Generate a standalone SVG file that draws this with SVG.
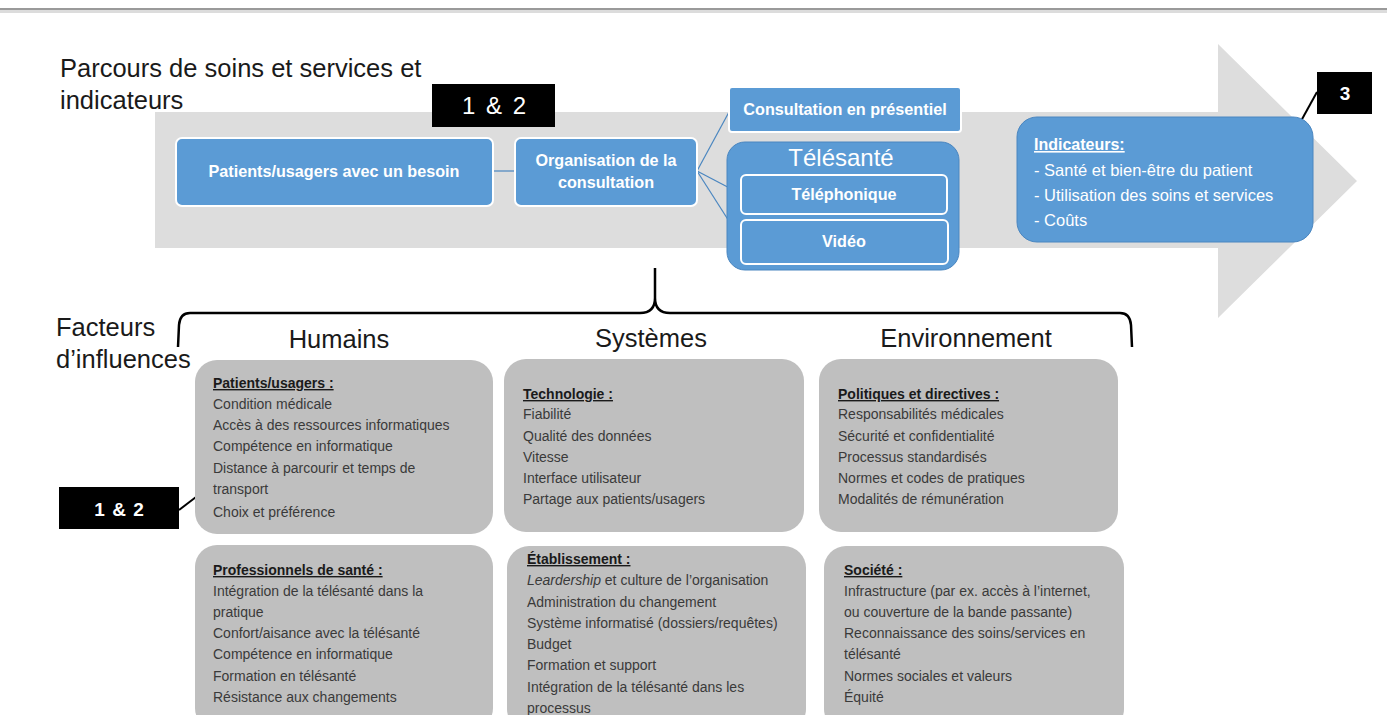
<svg xmlns="http://www.w3.org/2000/svg" width="1387" height="715" viewBox="0 0 1387 715">
<defs>
<style>
.t{font-family:"Liberation Sans",Arial,sans-serif}
.big{font-size:25.5px;fill:#1a1a1a}
.blue{fill:#5B9BD5;stroke:#fff;stroke-width:2}
.wb{fill:#fff;font-weight:bold;font-size:16.2px}
.gray{fill:#BFBFBF}
.g{font-size:14px;fill:#3a3a3a}
.gh{font-size:14px;fill:#1a1a1a;font-weight:bold;text-decoration:underline}
.blk{fill:#000}
.conn{stroke:#4A86C0;stroke-width:1.2;fill:none}
</style>
</defs>
<rect x="0" y="0" width="1387" height="715" fill="#fff"/>
<rect x="0" y="8" width="1387" height="2" fill="#9a9a9a"/>
<rect x="0" y="10" width="1387" height="3" fill="#dcdcdc"/>

<g id="arrow">
<polygon points="155,112 1218,112 1218,44 1357,181 1218,318 1218,248 155,248" fill="#DDDDDD"/>
</g>

<g id="title">
<text class="t big" x="60" y="77">Parcours de soins et services et</text>
<text class="t big" x="60" y="109">indicateurs</text>
</g>

<g id="connectors">
<line class="conn" x1="493" y1="171" x2="515" y2="171"/>
<line class="conn" x1="697" y1="171" x2="729" y2="112"/>
<line class="conn" x1="697" y1="171" x2="741" y2="194"/>
<line class="conn" x1="697" y1="171" x2="741" y2="240"/>
<line x1="1317" y1="92" x2="1301" y2="121" stroke="#000" stroke-width="2"/>
<line x1="179" y1="510" x2="196" y2="497" stroke="#000" stroke-width="2"/>
<path d="M655,268 L655,298 Q655,313 640,313 L190,313 Q180,313 179,325 L178,347 M655,298 Q655,313 670,313 L1120,313 Q1130,313 1131,325 L1132,347" fill="none" stroke="#000" stroke-width="2.5"/>
</g>

<g id="badge12top">
<rect class="blk" x="432" y="84" width="123" height="43"/>
<text class="t" x="494" y="114" font-size="24" fill="#fff" text-anchor="middle" word-spacing="4">1 &amp; 2</text>
</g>

<g id="patients">
<rect class="blue" x="176" y="138" width="317" height="68" rx="6"/>
<text class="t wb" x="334" y="177" text-anchor="middle">Patients/usagers avec un besoin</text>
</g>

<g id="organisation">
<rect class="blue" x="515" y="138" width="182" height="68" rx="6"/>
<text class="t wb" x="606" y="166" text-anchor="middle">Organisation de la</text>
<text class="t wb" x="606" y="188" text-anchor="middle">consultation</text>
</g>

<g id="presentiel">
<rect class="blue" x="729" y="87" width="232" height="45" rx="3"/>
<text class="t wb" x="845" y="115" text-anchor="middle">Consultation en présentiel</text>
</g>

<g id="telesante">
<rect x="727" y="142" width="232" height="128" rx="18" fill="#5B9BD5" stroke="#4A86C0" stroke-width="1"/>
<text class="t" x="841" y="166" font-size="24" fill="#fff" text-anchor="middle">Télésanté</text>
<rect x="741" y="175" width="206" height="39" rx="5" fill="#5B9BD5" stroke="#fff" stroke-width="2"/>
<text class="t wb" x="844" y="200" text-anchor="middle">Téléphonique</text>
<rect x="741" y="220" width="207" height="44" rx="5" fill="#5B9BD5" stroke="#fff" stroke-width="2"/>
<text class="t wb" x="844" y="247" text-anchor="middle">Vidéo</text>
</g>

<g id="indicateurs">
<rect x="1017" y="117" width="296" height="125" rx="20" fill="#5B9BD5" stroke="#4A86C0" stroke-width="1"/>
<text class="t" x="1034" y="150" font-size="16" fill="#fff" font-weight="bold" text-decoration="underline">Indicateurs:</text>
<text class="t" x="1034" y="176" font-size="16.5" fill="#fff">- Santé et bien-être du patient</text>
<text class="t" x="1034" y="201" font-size="16.5" fill="#fff">- Utilisation des soins et services</text>
<text class="t" x="1034" y="226" font-size="16.5" fill="#fff">- Coûts</text>
</g>

<g id="badge3">
<rect class="blk" x="1317" y="72" width="55" height="42"/>
<text class="t" x="1345" y="100" font-size="19" fill="#fff" font-weight="bold" text-anchor="middle">3</text>
</g>

<g id="facteurs">
<text class="t big" x="56" y="336">Facteurs</text>
<text class="t big" x="56" y="368">d’influences</text>
</g>

<g id="headers">
<text class="t big" x="339" y="348" text-anchor="middle">Humains</text>
<text class="t big" x="651" y="347" text-anchor="middle">Systèmes</text>
<text class="t big" x="966" y="347" text-anchor="middle">Environnement</text>
</g>

<g id="patients-usagers">
<rect class="gray" x="195" y="360" width="298" height="174" rx="22"/>
<text class="t gh" x="213" y="388">Patients/usagers :</text>
<text class="t g" x="213" y="409">Condition médicale</text>
<text class="t g" x="213" y="430">Accès à des ressources informatiques</text>
<text class="t g" x="213" y="451">Compétence  en  informatique</text>
<text class="t g" x="213" y="473">Distance à parcourir et temps de</text>
<text class="t g" x="213" y="494">transport</text>
<text class="t g" x="213" y="517">Choix et préférence</text>
</g>

<g id="technologie">
<rect class="gray" x="504" y="359" width="300" height="173" rx="22"/>
<text class="t gh" x="523" y="399">Technologie  :</text>
<text class="t g" x="523" y="419">Fiabilité</text>
<text class="t g" x="523" y="441">Qualité des données</text>
<text class="t g" x="523" y="462">Vitesse</text>
<text class="t g" x="523" y="483">Interface utilisateur</text>
<text class="t g" x="523" y="504">Partage aux patients/usagers</text>
</g>

<g id="politiques">
<rect class="gray" x="819" y="359" width="299" height="173" rx="22"/>
<text class="t gh" x="838" y="399">Politiques et directives :</text>
<text class="t g" x="838" y="419">Responsabilités médicales</text>
<text class="t g" x="838" y="441">Sécurité et confidentialité</text>
<text class="t g" x="838" y="462">Processus standardisés</text>
<text class="t g" x="838" y="483">Normes et codes de pratiques</text>
<text class="t g" x="838" y="504">Modalités de rémunération</text>
</g>

<g id="professionnels">
<rect class="gray" x="195" y="545" width="298" height="185" rx="22"/>
<text class="t gh" x="213" y="575">Professionnels  de santé  :</text>
<text class="t g" x="213" y="596">Intégration de  la télésanté dans la</text>
<text class="t g" x="213" y="617">pratique</text>
<text class="t g" x="213" y="638">Confort/aisance avec la télésanté</text>
<text class="t g" x="213" y="659">Compétence  en  informatique</text>
<text class="t g" x="213" y="681">Formation en télésanté</text>
<text class="t g" x="213" y="702">Résistance aux changements</text>
</g>

<g id="etablissement">
<rect class="gray" x="507" y="546" width="299" height="185" rx="22"/>
<text class="t gh" x="527" y="564">Établissement :</text>
<text class="t g" x="527" y="585"><tspan font-style="italic">Leardership</tspan>  et culture de  l’organisation</text>
<text class="t g" x="527" y="607">Administration du changement</text>
<text class="t g" x="527" y="628">Système  informatisé (dossiers/requêtes)</text>
<text class="t g" x="527" y="649">Budget</text>
<text class="t g" x="527" y="670">Formation et support</text>
<text class="t g" x="527" y="692">Intégration de  la télésanté dans les</text>
<text class="t g" x="527" y="713">processus</text>
</g>

<g id="societe">
<rect class="gray" x="824" y="546" width="300" height="185" rx="22"/>
<text class="t gh" x="844" y="575">Société :</text>
<text class="t g" x="844" y="596">Infrastructure (par ex. accès à l’internet,</text>
<text class="t g" x="844" y="617">ou couverture  de la bande passante)</text>
<text class="t g" x="844" y="638">Reconnaissance des soins/services en</text>
<text class="t g" x="844" y="659">télésanté</text>
<text class="t g" x="844" y="681">Normes  sociales et valeurs</text>
<text class="t g" x="844" y="702">Équité</text>
</g>

<g id="badge12bottom">
<rect class="blk" x="59" y="487" width="120" height="42"/>
<text class="t" x="119" y="516" font-size="19" fill="#fff" font-weight="bold" text-anchor="middle" word-spacing="2">1 &amp; 2</text>
</g>
</svg>
